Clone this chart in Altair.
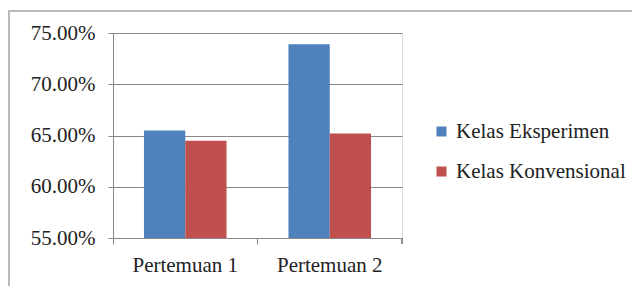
import altair as alt
import pandas as pd

categories = ["Pertemuan 1", "Pertemuan 1", "Pertemuan 2", "Pertemuan 2"]
series = ["Kelas Eksperimen", "Kelas Konvensional", "Kelas Eksperimen", "Kelas Konvensional"]
values = [0.655, 0.645, 0.739, 0.652]

df = pd.DataFrame({"pertemuan": categories, "kelas": series, "nilai": values})

FONT = "Liberation Serif"
GRID = "#888888"
FS = 21

bars = alt.Chart(df).mark_bar().encode(
    x=alt.X("pertemuan:N", title=None,
            scale=alt.Scale(paddingInner=0, paddingOuter=0),
            axis=alt.Axis(labelAngle=0, bandPosition=0, ticks=True, tickSize=6,
                          domainColor=GRID, tickColor=GRID, labelPadding=10,
                          labelFont=FONT, labelFontSize=FS, labelColor="#222")),
    xOffset=alt.XOffset("kelas:N", scale=alt.Scale(paddingInner=0, paddingOuter=0.75)),
    y=alt.Y("nilai:Q", title=None,
            scale=alt.Scale(domain=[0.55, 0.75], zero=False, nice=False),
            axis=alt.Axis(format=".2%", values=[0.55, 0.60, 0.65, 0.70, 0.75],
                          grid=True, gridColor=GRID, domainColor=GRID, tickColor=GRID,
                          tickSize=5, labelPadding=13,
                          labelFont=FONT, labelFontSize=FS, labelColor="#222")),
    y2=alt.datum(0.55),
    color=alt.Color("kelas:N", title=None,
                    scale=alt.Scale(domain=["Kelas Eksperimen", "Kelas Konvensional"],
                                    range=["#4F81BD", "#C0504D"]),
                    legend=alt.Legend(orient="none", legendX=318, legendY=88,
                                      symbolType="square", symbolSize=100,
                                      symbolStrokeWidth=0, labelLimit=400,
                                      labelFont=FONT, labelFontSize=FS, labelColor="#222",
                                      rowPadding=18, labelOffset=4)),
)

end_tick = alt.Chart(df).mark_rule(color=GRID).encode(
    x=alt.value(289), y=alt.value(205), y2=alt.value(211)
)

frame = alt.Chart(df).mark_rect(fill=None, stroke="#bbbbbb", strokeWidth=1.5, clip=False).encode(
    x=alt.value(-104), x2=alt.value(700), y=alt.value(-22), y2=alt.value(400)
)

chart = alt.layer(frame, bars, end_tick).properties(
    width=289, height=205,
    autosize=alt.AutoSizeParams(type="none"),
    padding={"left": 105, "top": 25, "right": 230, "bottom": 48},
).configure_view(stroke=None).configure(background="white")

chart.save("out.html", embed_options={"renderer": "svg", "actions": False})
